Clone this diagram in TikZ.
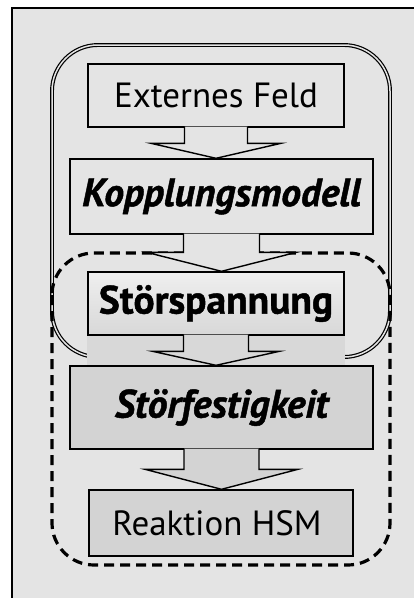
\documentclass[tikz,border=0pt]{standalone}
\usepackage{fontspec}
\setmainfont{PT Sans}[BoldFeatures={FakeBold=1.2},BoldItalicFeatures={FakeBold=1.2}]
\usetikzlibrary{calc,backgrounds}

\definecolor{bggray}{RGB}{228,228,228}
\definecolor{midgray}{RGB}{216,216,216}
\definecolor{fillgray}{RGB}{211,211,211}

\tikzset{
  block/.style={draw, line width=1.4pt, inner sep=0pt, align=center},
  plaintext/.style={font=\fontsize{35}{35}\selectfont},
  boldtext/.style={font=\fontsize{39.5}{39.5}\selectfont\bfseries},
  blockarrow/.style={draw, line width=1.4pt, line join=miter},
  outerframe/.style={double, double distance=1.5pt, line width=1.2pt, double=bggray},
  innerframe/.style={line width=3.2pt, dash pattern=on 10pt off 6pt},
}

% block arrow from the bottom of #1 to the top of #2
% #3 half shaft, #4 half head, #5 head length, #6 fill
\newcommand{\blockarr}[6]{%
  \draw[blockarrow, fill=#6] let \p1=(#1.south), \p2=(#2.north) in
    (\x1-#3pt,\y1+1pt) -- (\x1-#3pt,\y2+#5pt) -- (\x1-#4pt,\y2+#5pt) -- (\x1,\y2)
    -- (\x1+#4pt,\y2+#5pt) -- (\x1+#3pt,\y2+#5pt) -- (\x1+#3pt,\y1+1pt);
}

\begin{document}
\begin{tikzpicture}[x=1pt,y=-1pt]
  \useasboundingbox (0,0) rectangle (414,598);

  % chain of blocks
  \node[block, plaintext, fill=bggray, minimum width=256pt, minimum height=63pt]
    (feld) at (216,95.5) {Externes Feld};
  \node[block, boldtext, fill=bggray, minimum width=303pt, minimum height=75pt]
    (kopp) at (221.5,196.5) {\itshape Kopplungsmodell};
  \node[block, boldtext, top color=bggray!60!white, bottom color=midgray, minimum width=256pt, minimum height=63pt]
    (stoer) at (216,303.5) {Störspannung};
  \node[block, boldtext, fill=fillgray, minimum width=303pt, minimum height=83pt]
    (fest) at (221.5,407.5) {\itshape Störfestigkeit};
  \node[block, plaintext, fill=fillgray, minimum width=264pt, minimum height=66pt]
    (reak) at (221,523) {Reaktion HSM\hspace{8pt}};

  \blockarr{feld}{kopp}{31.5}{65}{15}{bggray}
  \blockarr{kopp}{stoer}{38}{75}{19}{bggray}
  \blockarr{stoer}{fest}{32.5}{63.5}{14}{midgray}
  \blockarr{fest}{reak}{37.5}{76.5}{20}{fillgray}

  \begin{scope}[on background layer]
    \fill[white] (0,0) rectangle (414,598);
    \fill[bggray] (12,8) rectangle (414,598);
    \draw[line width=1.2pt] (12,598) -- (12,8) -- (414,8);
    % field side and interference side
    \draw[outerframe, rounded corners=46pt] (52,45) rectangle (390,357);
    \draw[innerframe, rounded corners=42pt] (52,253) rectangle (390,565);
    \fill[midgray] (stoer.south west) rectangle (stoer.east |- fest.north);
  \end{scope}
\end{tikzpicture}
\end{document}
